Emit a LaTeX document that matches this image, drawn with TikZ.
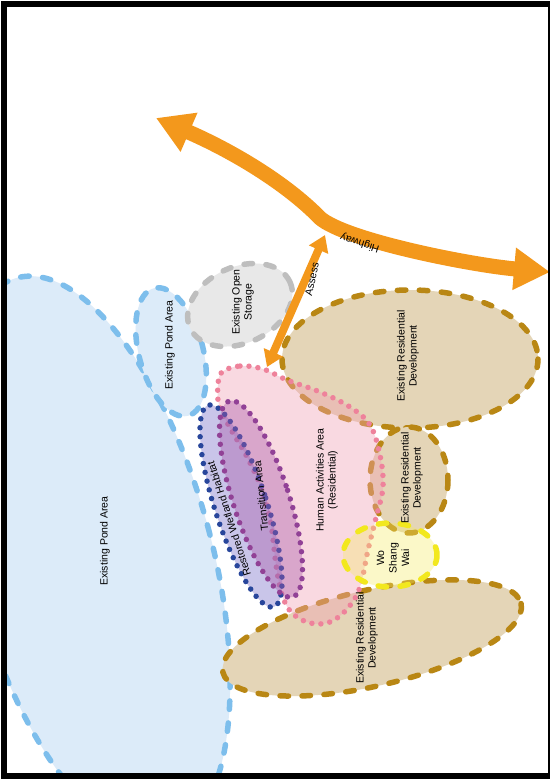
\documentclass[tikz,border=0pt]{standalone}
\usepackage{fontspec}
\setmainfont{Liberation Sans}
\usetikzlibrary{arrows.meta}
\definecolor{pondfill}{RGB}{220,235,249}
\definecolor{ponddash}{RGB}{125,190,236}
\definecolor{storefill}{RGB}{232,232,232}
\definecolor{storedash}{RGB}{190,190,190}
\definecolor{resfill}{RGB}{228,213,183}
\definecolor{resdash}{RGB}{185,135,20}
\definecolor{humanfill}{RGB}{242,160,180}
\definecolor{humandot}{RGB}{238,130,155}
\definecolor{wetfill}{RGB}{120,110,200}
\definecolor{wetdot}{RGB}{40,70,155}
\definecolor{transfill}{RGB}{170,90,170}
\definecolor{transdot}{RGB}{145,65,150}
\definecolor{wofill}{RGB}{245,235,100}
\definecolor{wodash}{RGB}{242,232,30}
\definecolor{road}{RGB}{243,152,28}
\tikzset{
  bigtip/.tip={Triangle[length=36pt, width=40pt]},
  smalltip/.tip={Triangle[length=16pt, width=20pt]}
}
\begin{document}
\begin{tikzpicture}[x=1pt, y=-1pt, line join=round, font=\fontsize{10.5}{12}\selectfont,
  dashedge/.style={line width=5.5pt, line cap=round, dash pattern=on 8.5pt off 13.5pt},
  dotedge/.style={line width=5.5pt, line cap=round, dash pattern=on 0pt off 9pt},
  lbl/.style={align=center, inner sep=0pt, rotate=90}]
\useasboundingbox (0,0) rectangle (552,781);
\fill[white] (0,0) rectangle (552,781);
\begin{scope}
\clip (7,7) rectangle (548,773);
\draw[dashedge, ponddash, fill=pondfill, rotate around={15:(92,558)}] (92,558) ellipse [x radius=120, y radius=290];
\draw[dashedge, ponddash, fill=pondfill, rotate around={15:(171,352)}] (171,352) ellipse [x radius=32, y radius=66];
\draw[dashedge, storedash, fill=storefill, rotate around={25:(240,305)}] (240,305) ellipse [x radius=55, y radius=38];
\draw[dashedge, resdash, fill=resfill] (410,359) ellipse [x radius=128, y radius=69];
\draw[dashedge, resdash, fill=resfill] (409,480) ellipse [x radius=39, y radius=53];
\draw[dashedge, resdash, fill=resfill, rotate around={13:(372,638)}] (372,638) ellipse [x radius=153, y radius=48];
\draw[dotedge, humandot, fill=humanfill, fill opacity=.4] plot[smooth cycle, tension=.6] coordinates {
  (222,372) (240,366) (263,369) (287,380) (320,392) (350,407) (370,425) (380,455)
  (383,487) (376,518) (368,550) (360,587) (348,608) (330,622) (310,623) (292,613)
  (282,595) (276,565) (271,525) (262,490) (247,457) (230,428) (219,405) (218,385)};
\draw[dotedge, wetdot, fill=wetfill, fill opacity=.4, rotate around={18:(241,506)}] (241,506) ellipse [x radius=26, y radius=106];
\draw[dotedge, transdot, fill=transfill, fill opacity=.4, rotate around={18:(261,499)}] (261,499) ellipse [x radius=28, y radius=103];
\draw[dashedge, wodash, fill=wofill, fill opacity=.35] (390,555) ellipse [x radius=47, y radius=32];
\coordinate (assessS) at (267,367);
\coordinate (assessN) at (325,235);
\draw[line width=8pt, road, smalltip-smalltip] (assessS) -- (assessN);
\coordinate (hwW) at (156,118);
\coordinate (hwE) at (550,272);
\draw[line width=15pt, road, bigtip-bigtip] (hwW) .. controls (230,150) and (285,182) .. (320,218) .. controls (345,240) and (470,265) .. (hwE);
\end{scope}
\node[lbl] (bigpond) at (105,541) {Existing Pond Area};
\node[lbl] (smallpond) at (170,345) {Existing Pond Area};
\node[lbl] (storage) at (243,302) {Existing Open\\Storage};
\node[lbl] (resN) at (408,356) {Existing Residential\\Development};
\node[lbl] (resM) at (412,478) {Existing Residential\\Development};
\node[lbl] (resS) at (367,638) {Existing Residential\\Development};
\node[lbl] (human) at (327,480) {Human Activities Area\\(Residential)};
\node[lbl, font=\fontsize{10.5}{12.5}\selectfont] (wsw) at (393,558) {Wo\\Shang\\Wai};
\node[lbl, rotate=18] (wetland) at (229,519) {Restored Wetland Habitat};
\node[lbl, rotate=6] (transition) at (261,496) {Transition Area};
\node[inner sep=0pt, rotate=162] (highway) at (360,243) {Highway};
\node[inner sep=0pt, rotate=78] (assess) at (312,279) {Assess};
\fill[black] (1,1) rectangle (548,7);
\fill[black] (1,1) rectangle (7,779);
\fill[black] (1,773) rectangle (550,779);
\fill[black] (548,1) rectangle (550,779);
\end{tikzpicture}
\end{document}
